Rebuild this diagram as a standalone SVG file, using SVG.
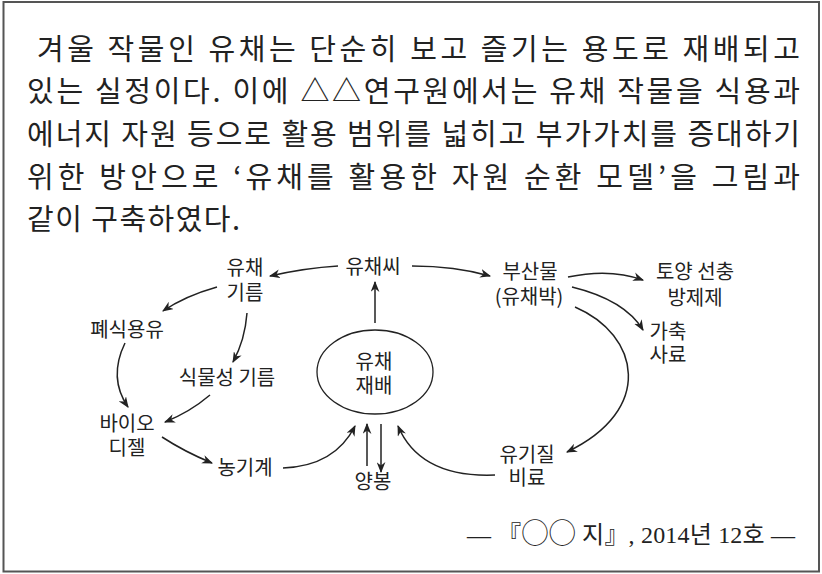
<svg xmlns="http://www.w3.org/2000/svg" width="822" height="574" viewBox="0 0 822 574">
<defs>
<style>
.p{font-family:"Noto Sans CJK KR",sans-serif;font-size:29px;fill:#222}
.l{font-family:"Noto Sans CJK KR",sans-serif;font-size:20px;fill:#222;text-anchor:middle}
.c{fill:none;stroke:#222;stroke-width:1.5;marker-end:url(#ah)}
.cite{font-family:"Liberation Serif","Noto Sans CJK KR",serif;font-size:24px;fill:#222}
</style>
<marker id="ah" viewBox="0 0 10 8" refX="9" refY="4" markerWidth="11" markerHeight="9" markerUnits="userSpaceOnUse" orient="auto">
<path d="M0,0 L10,4 L0,8 L3,4 z" fill="#222"/>
</marker>
</defs>
<rect x="3.5" y="2" width="815.5" height="569.5" fill="#fff" stroke="#555" stroke-width="2"/>
<g id="paragraph">
<text class="p" x="37" y="60" textLength="763" lengthAdjust="spacing">겨울 작물인 유채는 단순히 보고 즐기는 용도로 재배되고</text>
<text class="p" x="27" y="102" textLength="773" lengthAdjust="spacing">있는 실정이다. 이에 △△연구원에서는 유채 작물을 식용과</text>
<text class="p" x="27" y="145" textLength="773" lengthAdjust="spacing">에너지 자원 등으로 활용 범위를 넓히고 부가가치를 증대하기</text>
<text class="p" x="27" y="188" textLength="773" lengthAdjust="spacing">위한 방안으로 ‘유채를 활용한 자원 순환 모델’을 그림과</text>
<text class="p" x="27" y="230" textLength="213" lengthAdjust="spacing">같이 구축하였다.</text>
</g>
<g id="connectors">
<path class="c" d="M338,266 Q305,268 270,276"/>
<path class="c" d="M412,266 Q455,266 490,276"/>
<path class="c" d="M375,323 L375,282"/>
<path class="c" d="M217,287 Q185,296 163,311"/>
<path class="c" d="M247,313 Q245,340 233,362"/>
<path class="c" d="M125,343 Q108,378 128,407"/>
<path class="c" d="M210,395 Q190,412 165,422"/>
<path class="c" d="M162,437 Q185,452 212,463"/>
<path class="c" d="M283,468 Q335,466 355,426"/>
<path class="c" d="M367,466 L367,424"/>
<path class="c" d="M381,424 L381,472"/>
<path class="c" d="M495,475 Q420,478 398,426"/>
<path class="c" d="M568,277 Q610,268 643,280"/>
<path class="c" d="M572,287 Q625,300 643,330"/>
<path class="c" d="M575,307 C640,335 655,410 567,452"/>
</g>
<g id="n-cultivation">
<ellipse cx="375" cy="372" rx="58" ry="42" fill="none" stroke="#222" stroke-width="1.3"/>
<text class="l" x="374" y="369">유채</text>
<text class="l" x="374" y="393">재배</text>
</g>
<g id="n-seed"><text class="l" x="373" y="274">유채씨</text></g>
<g id="n-oil"><text class="l" x="245" y="275">유채</text><text class="l" x="245" y="300">기름</text></g>
<g id="n-waste"><text class="l" x="127" y="337">폐식용유</text></g>
<g id="n-veg"><text class="l" x="227" y="385">식물성 기름</text></g>
<g id="n-bio"><text class="l" x="127" y="431">바이오</text><text class="l" x="127" y="455">디젤</text></g>
<g id="n-machine"><text class="l" x="245" y="475">농기계</text></g>
<g id="n-bee"><text class="l" x="373" y="489">양봉</text></g>
<g id="n-by"><text class="l" x="530" y="279">부산물</text><text class="l" x="529" y="304">(유채박)</text></g>
<g id="n-nema"><text class="l" x="695" y="279">토양 선충</text><text class="l" x="695" y="305">방제제</text></g>
<g id="n-feed"><text class="l" x="668" y="339">가축</text><text class="l" x="668" y="362">사료</text></g>
<g id="n-fert"><text class="l" x="527" y="462">유기질</text><text class="l" x="527" y="485">비료</text></g>
<g id="citation">
<text class="cite" x="467" y="543" textLength="328" lengthAdjust="spacing">― 『<tspan font-size="27">◯◯</tspan> 지』, 2014년 12호 ―</text>
</g>
</svg>
